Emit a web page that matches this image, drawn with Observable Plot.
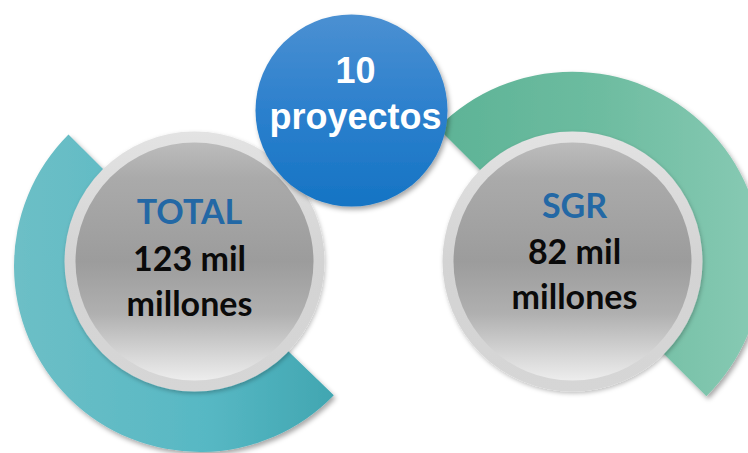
<!DOCTYPE html>
<html><head><meta charset="utf-8">
<script src="https://cdn.jsdelivr.net/npm/d3@7"></script>
<script src="https://cdn.jsdelivr.net/npm/@observablehq/plot@0.6"></script>
<style>html,body{margin:0;padding:0;background:#fff;overflow:hidden}</style>
</head><body><div id="chart"></div>
<script>
// ---- data ----
const categories = ["TOTAL", "SGR"];
const amounts = [123, 82];
const amountUnit = "mil";
const amountScale = "millones";
const projectCount = 10;
const projectLabel = "proyectos";

// ---- layout (pixels) ----
const W = 748, H = 453;
const discCenters = [{cx: 194, cy: 261}, {cx: 572, cy: 261}];
const ringR = 130, discR = 119;
const arcs = [
  {cx: 200, cy: 266, inner: 118, outer: 186, start: 134, end: 315, fill: "url(#gTeal)"},
  {cx: 572, cy: 262, inner: 118, outer: 190, start: -45, end: 135, fill: "url(#gGreen)"}
];
const hub = {cx: 351, cy: 110, r: 96};
const textX = [189, 574];
const baselines = [[223, 270, 315], [217, 263, 308]];
const hubTextX = 355, hubBaselines = [82, 128];
const fsDisc = 34, fsHub = 36;
const discFont = "Lato, 'Open Sans', sans-serif";
const hubFont = "'Liberation Sans', Arial, sans-serif";

const mid = (b, fs) => b - 0.32 * fs;

const catRows = categories.map((c, i) => ({x: textX[i], y: mid(baselines[i][0], fsDisc), text: c}));
const valRows = categories.flatMap((c, i) => [
  {x: textX[i], y: mid(baselines[i][1], fsDisc), text: `${amounts[i]} ${amountUnit}`},
  {x: textX[i], y: mid(baselines[i][2], fsDisc), text: amountScale}
]);
const hubRows = [
  {x: hubTextX, y: mid(hubBaselines[0], fsHub), text: String(projectCount)},
  {x: hubTextX, y: mid(hubBaselines[1], fsHub), text: projectLabel}
];

function arcMark(list) {
  return (index, scales) => {
    const g = d3.create("svg:g");
    for (const a of list) {
      const d = d3.arc()({innerRadius: a.inner, outerRadius: a.outer,
        startAngle: a.start * Math.PI / 180, endAngle: a.end * Math.PI / 180});
      g.append("path").attr("d", d)
        .attr("transform", `translate(${scales.x(a.cx)},${scales.y(a.cy)})`)
        .attr("fill", a.fill).attr("filter", "url(#shadow)");
    }
    return g.node();
  };
}

const chart = Plot.plot({
  width: W, height: H, margin: 0,
  x: {domain: [0, W], axis: null},
  y: {domain: [0, H], range: [0, H], axis: null},
  marks: [
    arcMark(arcs),
    Plot.dot(discCenters, {x: "cx", y: "cy", r: ringR, fill: "url(#gRing)"}),
    Plot.dot(discCenters, {x: "cx", y: "cy", r: discR, fill: "url(#gDisc)"}),
    Plot.dot([hub], {x: "cx", y: "cy", r: hub.r, fill: "url(#gBlue)"}),
    Plot.text(catRows, {x: "x", y: "y", text: "text", fill: "#2368a5", fontSize: fsDisc, fontWeight: "bold", fontFamily: discFont}),
    Plot.text(valRows, {x: "x", y: "y", text: "text", fill: "#0a0a0a", fontSize: fsDisc, fontWeight: "bold", fontFamily: discFont}),
    Plot.text(hubRows, {x: "x", y: "y", text: "text", fill: "#ffffff", fontSize: fsHub, fontWeight: "bold", fontFamily: hubFont})
  ]
});

const svg = d3.select(chart);
const defs = svg.insert("defs", ":first-child");
function lin(id, stops, horizontal) {
  const g = defs.append("linearGradient").attr("id", id)
    .attr("x1", 0).attr("y1", 0).attr("x2", horizontal ? 1 : 0).attr("y2", horizontal ? 0 : 1);
  for (const [o, c] of stops) g.append("stop").attr("offset", o).attr("stop-color", c);
}
lin("gTeal", [[0, "#6dbfc6"], [0.6, "#57b8c4"], [1, "#41a6b1"]], true);
lin("gGreen", [[0, "#5db396"], [0.5, "#6dbca0"], [1, "#88cab4"]], true);
lin("gBlue", [[0, "#4b90d2"], [0.5, "#2c80cd"], [1, "#1574c4"]], false);
lin("gRing", [[0, "#e3e3e3"], [0.5, "#d3d3d3"], [1, "#d6d6d6"]], false);
lin("gDisc", [[0, "#bcbcbc"], [0.15, "#aaaaaa"], [0.5, "#9c9c9c"], [0.72, "#b0b0b0"], [0.9, "#d8d8d8"], [1, "#ededed"]], false);
const f = defs.append("filter").attr("id", "shadow").attr("x", "-20%").attr("y", "-20%").attr("width", "140%").attr("height", "140%");
f.append("feDropShadow").attr("dx", 2).attr("dy", 3).attr("stdDeviation", 2.5).attr("flood-color", "#000").attr("flood-opacity", 0.35);
const f2 = defs.append("filter").attr("id", "shadowSoft").attr("x", "-20%").attr("y", "-20%").attr("width", "140%").attr("height", "140%");
f2.append("feDropShadow").attr("dx", 1).attr("dy", 2).attr("stdDeviation", 2).attr("flood-color", "#000").attr("flood-opacity", 0.25);
svg.selectAll('g[fill="url(#gBlue)"]').attr("filter", "url(#shadow)");
svg.selectAll('g[fill="url(#gRing)"]').attr("filter", "url(#shadowSoft)");

document.getElementById("chart").appendChild(chart);
</script>
</body></html>
